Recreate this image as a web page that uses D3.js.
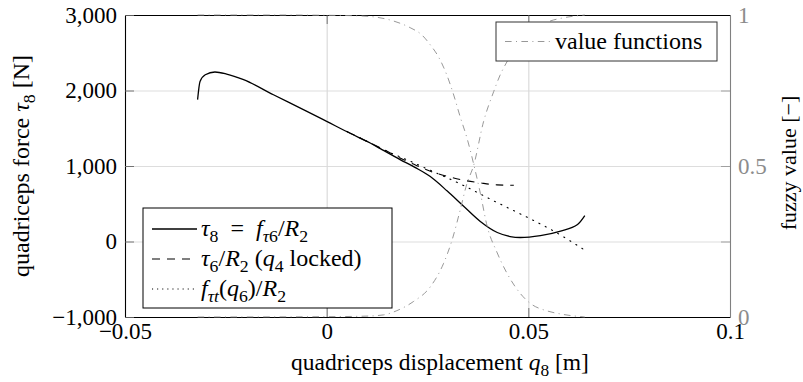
<!DOCTYPE html>
<html>
<head>
<meta charset="utf-8">
<script src="https://cdn.jsdelivr.net/npm/d3@7"></script>
<style>
  html, body { margin: 0; padding: 0; background: #fff; }
  svg { display: block; }
</style>
</head>
<body>
<svg id="chart" width="803" height="382"></svg>
<script>
// quadriceps force tau8 = f_tau6 / R2 over displacement q8
const qMain = [-0.0320, -0.0314, -0.0301, -0.0277, -0.0248, -0.0206, -0.0132, -0.0049, 0.0000, 0.0059, 0.0108, 0.0133, 0.0182, 0.0220, 0.0257, 0.0299, 0.0339, 0.0381, 0.0423, 0.0455, 0.0480, 0.0530, 0.0580, 0.0622, 0.0640];
const tau8  = [1880, 2120, 2209, 2245, 2218, 2143, 1944, 1724, 1591, 1430, 1305, 1230, 1085, 979, 860, 668, 470, 265, 119, 66, 53, 79, 139, 225, 344];

// tau6 / R2 with q4 locked
const qLocked    = [0.0050, 0.0108, 0.0150, 0.0182, 0.0215, 0.0257, 0.0298, 0.0340, 0.0381, 0.0422, 0.0464];
const tau6Locked = [1458, 1305, 1195, 1105, 1025, 930, 864, 811, 776, 750, 745];

// f_taut(q6) / R2
const qTendon = [0.0050, 0.0108, 0.0150, 0.0200, 0.0250, 0.0300, 0.0340, 0.0406, 0.0488, 0.0559, 0.0640];
const fTendon = [1458, 1305, 1195, 1080, 960, 840, 740, 560, 345, 150, -115];

// fuzzy value functions (right axis)
const qDown     = [-0.0320, -0.0100, 0.0000, 0.0058, 0.0108, 0.0166, 0.0207, 0.0236, 0.0257, 0.0277, 0.0298, 0.0315, 0.0331, 0.0348, 0.0364, 0.0381, 0.0398, 0.0422, 0.0447, 0.0480, 0.0505, 0.0547, 0.0580, 0.0640];
const valueDown = [1, 1, 0.999, 0.998, 0.995, 0.980, 0.958, 0.934, 0.901, 0.862, 0.801, 0.735, 0.663, 0.592, 0.509, 0.41, 0.30, 0.215, 0.145, 0.078, 0.045, 0.02, 0.01, 0];
const qUp     = [-0.0320, 0.0000, 0.0100, 0.0141, 0.0174, 0.0215, 0.0257, 0.0290, 0.0311, 0.0331, 0.0348, 0.0364, 0.0389, 0.0414, 0.0430, 0.0447, 0.0480, 0.0515, 0.0554, 0.0588, 0.0640];
const valueUp = [0, 0.001, 0.003, 0.007, 0.021, 0.051, 0.100, 0.178, 0.255, 0.354, 0.443, 0.50, 0.647, 0.746, 0.801, 0.845, 0.91, 0.955, 0.980, 0.991, 1];

// ticks
const xTicks = [-0.05, 0, 0.05, 0.1];
const yTicks = [-1000, 0, 1000, 2000, 3000];
const fuzzyTicks = [0, 0.5, 1];
const fuzzyMarks = [0.25, 0.5, 0.75];

const box = { left: 125, right: 730, top: 15, bottom: 317 };
const FONT = '"Liberation Serif", "Times New Roman", serif';
const TICK_FS = 23;
const TICK = 9;

const x = d3.scaleLinear().domain([-0.05, 0.1]).range([box.left, box.right]);
const y = d3.scaleLinear().domain([-1000, 3000]).range([box.bottom, box.top]);
const yF = d3.scaleLinear().domain([0, 1]).range([box.bottom, box.top]);

const svg = d3.select('#chart');

svg.append('defs').append('clipPath').attr('id', 'plotclip')
  .append('rect')
  .attr('x', box.left).attr('y', box.top - 2)
  .attr('width', box.right - box.left).attr('height', box.bottom - box.top + 4);

// text with italic symbols and subscripts
function richText(sel, parts, fs) {
  let shift = 0;
  parts.forEach(([t, st]) => {
    const sub = st === 's' || st === 'si';
    const ital = st === 'i' || st === 'si';
    const target = sub ? fs * 0.24 : 0;
    sel.append('tspan').text(t)
      .attr('dy', target - shift)
      .attr('font-size', sub ? fs * 0.74 : fs)
      .attr('font-style', ital ? 'italic' : 'normal');
    shift = target;
  });
  return sel;
}

// grid
svg.append('g')
  .attr('transform', `translate(0,${box.bottom})`)
  .call(d3.axisBottom(x).tickValues(xTicks).tickSize(-(box.bottom - box.top)).tickFormat(''))
  .call(g => {
    g.select('.domain').remove();
    g.selectAll('line').attr('stroke', '#cfcfcf').attr('stroke-width', 0.9);
  });
svg.append('g')
  .attr('transform', `translate(${box.left},0)`)
  .call(d3.axisLeft(y).tickValues(yTicks).tickSize(-(box.right - box.left)).tickFormat(''))
  .call(g => {
    g.select('.domain').remove();
    g.selectAll('line').attr('stroke', '#d9d9d9').attr('stroke-width', 0.9);
  });

// force curves
const plot = svg.append('g').attr('clip-path', 'url(#plotclip)');
const forceLine = d3.line()
  .x(d => x(d[0])).y(d => y(d[1]))
  .curve(d3.curveMonotoneX);

plot.append('path')
  .datum(d3.zip(qTendon, fTendon))
  .attr('d', forceLine)
  .attr('fill', 'none').attr('stroke', '#000').attr('stroke-width', 1.1)
  .attr('stroke-dasharray', '1.1,6').attr('stroke-linecap', 'round');
plot.append('path')
  .datum(d3.zip(qLocked, tau6Locked))
  .attr('d', forceLine)
  .attr('fill', 'none').attr('stroke', '#000').attr('stroke-width', 1.1)
  .attr('stroke-dasharray', '7.5,7');
plot.append('path')
  .datum(d3.zip(qMain, tau8))
  .attr('d', forceLine)
  .attr('fill', 'none').attr('stroke', '#000').attr('stroke-width', 1.3);

// axis frame and ticks
const frame = svg.append('g');
frame.append('g')
  .attr('transform', `translate(0,${box.bottom})`)
  .call(d3.axisBottom(x).tickValues(xTicks).tickSize(-TICK).tickSizeOuter(0).tickPadding(6)
    .tickFormat(d3.format('~g')));
frame.append('g')
  .attr('transform', `translate(0,${box.top})`)
  .call(d3.axisTop(x).tickValues(xTicks).tickSize(-TICK).tickSizeOuter(0).tickFormat(''));
frame.append('g')
  .attr('transform', `translate(${box.left},0)`)
  .call(d3.axisLeft(y).tickValues(yTicks).tickSize(-TICK).tickSizeOuter(0).tickPadding(8)
    .tickFormat(d3.format(',')));
frame.selectAll('.domain').attr('stroke', '#000').attr('stroke-width', 1.1);
frame.selectAll('.tick line').attr('stroke', '#666').attr('stroke-width', 0.9);
frame.selectAll('.tick text')
  .attr('font-family', FONT).attr('font-size', TICK_FS).attr('fill', '#000');

// right fuzzy axis
const right = svg.append('g').attr('transform', `translate(${box.right},0)`);
right.call(d3.axisRight(yF).tickValues(fuzzyMarks).tickSize(-TICK).tickSizeOuter(0).tickFormat(''));
right.call(g => g.selectAll('.tick line').attr('stroke', '#999').attr('stroke-width', 0.9));
right.select('.domain').attr('stroke', '#808080').attr('stroke-width', 1.1);
const rightLabels = svg.append('g').attr('transform', `translate(${box.right},0)`)
  .call(d3.axisRight(yF).tickValues(fuzzyTicks).tickSize(0).tickPadding(8).tickFormat(d3.format('~g')));
rightLabels.select('.domain').remove();
rightLabels.selectAll('.tick text')
  .attr('font-family', FONT).attr('font-size', TICK_FS).attr('fill', '#8c8c8c');

// value functions
const valueLine = d3.line()
  .x(d => x(d[0])).y(d => yF(d[1]))
  .curve(d3.curveMonotoneX);
const VF_DASH = '6.6,4.4,1,4.4';
[[qDown, valueDown], [qUp, valueUp]].forEach(([qs, vs]) => {
  svg.append('path')
    .datum(d3.zip(qs, vs))
    .attr('d', valueLine)
    .attr('fill', 'none').attr('stroke', '#8c8c8c').attr('stroke-width', 0.9)
    .attr('stroke-dasharray', VF_DASH);
});

// axis titles
richText(svg.append('text')
  .attr('font-family', FONT).attr('text-anchor', 'middle')
  .attr('x', 440).attr('y', 370),
  [['quadriceps displacement ', ''], ['q', 'i'], ['8', 's'], [' [m]', '']], 23.5);
richText(svg.append('text')
  .attr('font-family', FONT).attr('text-anchor', 'middle')
  .attr('transform', `translate(29,${(box.top + box.bottom) / 2}) rotate(-90)`),
  [['quadriceps force ', ''], ['τ', 'i'], ['8', 's'], [' [N]', '']], 24);
richText(svg.append('text')
  .attr('font-family', FONT).attr('text-anchor', 'middle')
  .attr('transform', `translate(796,163) rotate(-90)`),
  [['fuzzy value [−]', '']], 22);

// legend for force curves
const LEG_FS = 24;
const leg = svg.append('g');
leg.append('rect').attr('x', 143).attr('y', 208).attr('width', 249).attr('height', 100)
  .attr('fill', '#fff').attr('stroke', '#000').attr('stroke-width', 1);
const legendRows = [
  { dash: null, w: 1.3, parts: [['τ', 'i'], ['8', 's'], ['\u2002=\u2002', ''], ['f', 'i'], ['τ', 'si'], ['6', 's'], ['/', ''], ['R', 'i'], ['2', 's']] },
  { dash: '8,7', w: 1.1, parts: [['τ', 'i'], ['6', 's'], ['/', ''], ['R', 'i'], ['2', 's'], [' (', ''], ['q', 'i'], ['4', 's'], [' locked)', '']] },
  { dash: '1.1,4', w: 1.1, parts: [['f', 'i'], ['τt', 'si'], ['(', ''], ['q', 'i'], ['6', 's'], [')/', ''], ['R', 'i'], ['2', 's']] }
];
legendRows.forEach((r, i) => {
  const cy = 229 + i * 30;
  const ln = leg.append('line').attr('x1', 152).attr('x2', 197).attr('y1', cy).attr('y2', cy)
    .attr('stroke', '#000').attr('stroke-width', r.w);
  if (r.dash) ln.attr('stroke-dasharray', r.dash);
  richText(leg.append('text').attr('font-family', FONT).attr('x', 201).attr('y', cy + 7), r.parts, LEG_FS);
});

// legend for value functions
const leg2 = svg.append('g');
leg2.append('rect').attr('x', 496).attr('y', 22).attr('width', 221).attr('height', 39)
  .attr('fill', '#fff').attr('stroke', '#333').attr('stroke-width', 1);
leg2.append('line').attr('x1', 505).attr('x2', 550).attr('y1', 41.5).attr('y2', 41.5)
  .attr('stroke', '#8c8c8c').attr('stroke-width', 0.9).attr('stroke-dasharray', VF_DASH);
leg2.append('text').attr('font-family', FONT).attr('font-size', LEG_FS).attr('x', 555).attr('y', 49)
  .text('value functions');
</script>
</body>
</html>
